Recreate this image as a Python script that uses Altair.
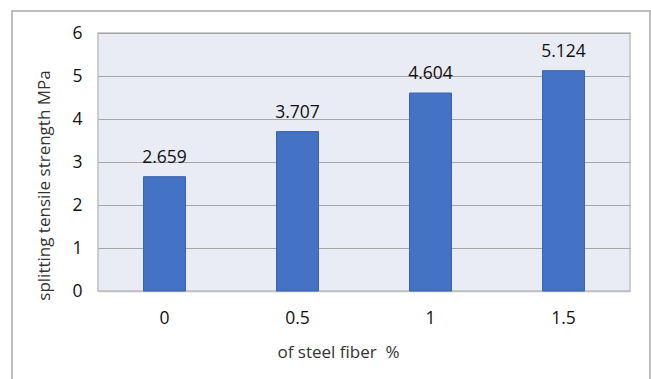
import altair as alt
import pandas as pd

# Splitting tensile strength by steel fiber content
fiber = ["0", "0.5", "1", "1.5"]
strength = [2.659, 3.707, 4.604, 5.124]
labels = ["2.659", "3.707", "4.604", "5.124"]

df = pd.DataFrame({"fiber": fiber, "strength": strength, "label": labels})

FONT = "Open Sans"
W, H = 532, 258
INK = "#111111"

x = alt.X(
    "fiber:N",
    sort=fiber,
    title="of steel fiber\u00a0\u00a0%",
    scale=alt.Scale(paddingInner=0, paddingOuter=0),
    axis=alt.Axis(
        labelAngle=0, labelFontSize=17.5, labelColor=INK, labelPadding=18,
        ticks=False, domain=True, domainColor="#BFBFBF", domainWidth=1.5,
        titleFontSize=17, titleFontWeight="normal", titleColor="#333333",
        titlePadding=18, titleX=240,
    ),
)
y = alt.Y(
    "strength:Q",
    title="splitting tensile strength MPa",
    scale=alt.Scale(domain=[0, 6]),
    axis=alt.Axis(
        values=[0, 1, 2, 3, 4, 5, 6], labelFontSize=17.5, labelColor=INK,
        labelPadding=16, ticks=False, domain=False,
        grid=True, gridColor="#A6A6A6", gridWidth=1,
        titleFontSize=17, titleFontWeight="normal", titleColor="#333333",
        titlePadding=18, titleY=152,
    ),
)

bars = alt.Chart(df).mark_bar(
    size=42, color="#4472C4", stroke="#3B63AA", strokeWidth=1
).encode(x=x, y=y)

text = alt.Chart(df).mark_text(
    dy=-19, fontSize=17.5, font=FONT, color=INK
).encode(x=alt.X("fiber:N", sort=fiber), y="strength:Q", text="label:N")

# outer chart frame
frame = alt.Chart(df).mark_rect(
    fill="transparent", stroke="#BFBFBF", strokeWidth=1.5, clip=False
).encode(
    x=alt.value(-86), x2=alt.value(552), y=alt.value(-22), y2=alt.value(400)
)

chart = alt.layer(frame, bars, text).properties(
    width=W, height=H,
    autosize=alt.AutoSizeParams(type="none"),
    padding={"left": 98, "top": 33, "right": 21, "bottom": 88},
).configure(
    background="white", font=FONT
).configure_view(
    fill="#E9EBF5", stroke="#BFBFBF", strokeWidth=1.5
)

chart.save("out.html", embed_options={"renderer": "svg", "actions": False})
